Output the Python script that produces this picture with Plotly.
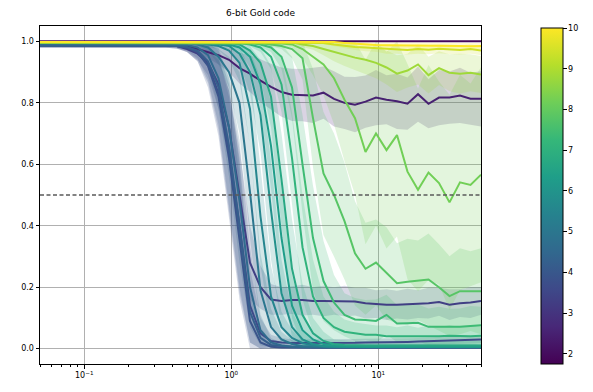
import numpy as np
import plotly.graph_objects as go
from plotly.colors import sample_colorscale

# ---------------- data ----------------
x = [0.05, 0.05894, 0.06947, 0.08189, 0.09653, 0.1138, 0.1341, 0.1581, 0.1864, 0.2197,
     0.2590, 0.3053, 0.3598, 0.4242, 0.5, 0.5894, 0.6947, 0.8189, 0.9653, 1.138,
     1.341, 1.581, 1.864, 2.197, 2.590, 3.053, 3.598, 4.242, 5.0, 5.894,
     6.947, 8.189, 9.653, 11.38, 13.41, 15.81, 18.64, 21.97, 25.90, 30.53,
     35.98, 42.42, 50.0]

series_values = [1.9, 2.5, 3.3, 3.6, 3.9, 4.2, 4.6, 5.0, 5.5, 5.9, 6.3, 6.7,
                 7.1, 7.4, 7.8, 8.2, 8.8, 9.4, 10.0]

y_a = [1.0, 1.0, 1.0, 1.0, 1.0, 1.0, 1.0, 1.0, 1.0, 1.0,
       1.0, 1.0, 1.0, 1.0, 1.0, 1.0, 1.0, 1.0, 1.0, 1.0,
       1.0, 1.0, 1.0, 1.0, 1.0, 1.0, 1.0, 1.0, 1.0, 1.0,
       1.0, 1.0, 1.0, 1.0, 1.0, 1.0, 1.0, 1.0, 1.0, 1.0,
       1.0, 1.0, 1.0]
sd_a = [0, 0, 0, 0, 0, 0, 0, 0, 0, 0,
        0, 0, 0, 0, 0, 0, 0, 0, 0, 0,
        0, 0, 0, 0, 0, 0, 0, 0, 0, 0,
        0, 0, 0, 0, 0, 0, 0, 0, 0, 0,
        0, 0, 0]

y_b = [0.99, 0.99, 0.99, 0.99, 0.99, 0.99, 0.99, 0.99, 0.99, 0.99,
       0.99, 0.99, 0.99, 0.99, 0.985, 0.975, 0.966, 0.955, 0.94, 0.913,
       0.895, 0.872, 0.852, 0.835, 0.826, 0.825, 0.824, 0.833, 0.813, 0.80,
       0.794, 0.804, 0.817, 0.81, 0.805, 0.797, 0.828, 0.797, 0.817, 0.817,
       0.824, 0.813, 0.813]
sd_b = [0.004, 0.004, 0.004, 0.004, 0.004, 0.004, 0.004, 0.004, 0.004, 0.004,
        0.004, 0.004, 0.005, 0.006, 0.01, 0.015, 0.02, 0.03, 0.04, 0.05,
        0.06, 0.07, 0.075, 0.08, 0.085, 0.085, 0.09, 0.085, 0.09, 0.085,
        0.09, 0.085, 0.09, 0.08, 0.09, 0.085, 0.09, 0.08, 0.09, 0.085,
        0.09, 0.085, 0.09]

y_p = [0.985, 0.985, 0.985, 0.985, 0.985, 0.985, 0.985, 0.985, 0.985, 0.985,
       0.985, 0.985, 0.985, 0.985, 0.975, 0.96, 0.93, 0.86, 0.72, 0.50,
       0.28, 0.20, 0.16, 0.155, 0.158, 0.158, 0.155, 0.155, 0.155, 0.155,
       0.153, 0.148, 0.145, 0.143, 0.143, 0.145, 0.145, 0.148, 0.152, 0.143,
       0.148, 0.15, 0.155]
sd_p = [0.005, 0.005, 0.005, 0.005, 0.005, 0.005, 0.005, 0.005, 0.005, 0.005,
        0.005, 0.005, 0.005, 0.006, 0.01, 0.02, 0.04, 0.08, 0.12, 0.15,
        0.12, 0.07, 0.05, 0.045, 0.045, 0.05, 0.045, 0.05, 0.045, 0.05,
        0.045, 0.05, 0.045, 0.05, 0.045, 0.05, 0.045, 0.05, 0.045, 0.05,
        0.045, 0.05, 0.045]

y_d3 = [0.985, 0.985, 0.985, 0.985, 0.985, 0.985, 0.985, 0.985, 0.985, 0.985,
        0.985, 0.985, 0.985, 0.985, 0.98, 0.965, 0.925, 0.83, 0.64, 0.40,
        0.14, 0.05, 0.025, 0.02, 0.018, 0.018, 0.017, 0.017, 0.018, 0.018,
        0.019, 0.02, 0.02, 0.021, 0.022, 0.022, 0.023, 0.024, 0.025, 0.026,
        0.027, 0.028, 0.03]
sd_d3 = [0.005, 0.005, 0.005, 0.005, 0.005, 0.005, 0.005, 0.005, 0.005, 0.005,
         0.005, 0.005, 0.006, 0.008, 0.015, 0.03, 0.06, 0.12, 0.2, 0.22,
         0.12, 0.05, 0.02, 0.015, 0.012, 0.012, 0.012, 0.012, 0.012, 0.012,
         0.012, 0.012, 0.012, 0.012, 0.012, 0.012, 0.012, 0.012, 0.012, 0.012,
         0.012, 0.012, 0.012]

y_d1 = [0.985, 0.985, 0.985, 0.985, 0.985, 0.985, 0.985, 0.985, 0.985, 0.985,
        0.985, 0.985, 0.985, 0.985, 0.98, 0.965, 0.92, 0.82, 0.62, 0.36,
        0.09, 0.02, 0.006, 0.004, 0.003, 0.003, 0.003, 0.003, 0.003, 0.003,
        0.003, 0.003, 0.003, 0.003, 0.003, 0.003, 0.003, 0.003, 0.003, 0.003,
        0.003, 0.003, 0.003]
sd_d1 = [0.005, 0.005, 0.005, 0.005, 0.005, 0.005, 0.005, 0.005, 0.005, 0.005,
         0.005, 0.005, 0.006, 0.008, 0.015, 0.03, 0.07, 0.13, 0.2, 0.2,
         0.09, 0.03, 0.01, 0.006, 0.004, 0.004, 0.004, 0.004, 0.004, 0.004,
         0.004, 0.004, 0.004, 0.004, 0.004, 0.004, 0.004, 0.004, 0.004, 0.004,
         0.004, 0.004, 0.004]

y_d2 = [0.985, 0.985, 0.985, 0.985, 0.985, 0.985, 0.985, 0.985, 0.985, 0.985,
        0.985, 0.985, 0.985, 0.985, 0.982, 0.97, 0.935, 0.85, 0.66, 0.40,
        0.12, 0.035, 0.012, 0.008, 0.006, 0.006, 0.005, 0.005, 0.005, 0.005,
        0.005, 0.005, 0.005, 0.005, 0.005, 0.005, 0.005, 0.005, 0.005, 0.005,
        0.005, 0.005, 0.005]
sd_d2 = [0.005, 0.005, 0.005, 0.005, 0.005, 0.005, 0.005, 0.005, 0.005, 0.005,
         0.005, 0.005, 0.006, 0.008, 0.012, 0.025, 0.06, 0.12, 0.2, 0.2,
         0.1, 0.035, 0.012, 0.008, 0.005, 0.005, 0.005, 0.005, 0.005, 0.005,
         0.005, 0.005, 0.005, 0.005, 0.005, 0.005, 0.005, 0.005, 0.005, 0.005,
         0.005, 0.005, 0.005]

y_d4 = [0.99, 0.99, 0.99, 0.99, 0.99, 0.99, 0.99, 0.99, 0.99, 0.99,
        0.99, 0.99, 0.99, 0.99, 0.988, 0.98, 0.955, 0.88, 0.72, 0.48,
        0.2, 0.06, 0.02, 0.01, 0.006, 0.005, 0.005, 0.005, 0.005, 0.005,
        0.005, 0.005, 0.005, 0.005, 0.005, 0.005, 0.005, 0.005, 0.005, 0.005,
        0.005, 0.005, 0.005]
sd_d4 = [0.004, 0.004, 0.004, 0.004, 0.004, 0.004, 0.004, 0.004, 0.004, 0.004,
         0.004, 0.004, 0.004, 0.005, 0.008, 0.015, 0.04, 0.1, 0.16, 0.2,
         0.13, 0.05, 0.015, 0.008, 0.005, 0.005, 0.005, 0.005, 0.005, 0.005,
         0.005, 0.005, 0.005, 0.005, 0.005, 0.005, 0.005, 0.005, 0.005, 0.005,
         0.005, 0.005, 0.005]

y_t1 = [0.995, 0.995, 0.995, 0.995, 0.995, 0.995, 0.995, 0.995, 0.995, 0.995,
        0.995, 0.995, 0.995, 0.995, 0.995, 0.99, 0.98, 0.95, 0.90, 0.80,
        0.51, 0.19, 0.07, 0.03, 0.015, 0.008, 0.006, 0.005, 0.005, 0.005,
        0.005, 0.005, 0.005, 0.005, 0.005, 0.005, 0.005, 0.005, 0.005, 0.005,
        0.005, 0.005, 0.005]
sd_t1 = [0.003, 0.003, 0.003, 0.003, 0.003, 0.003, 0.003, 0.003, 0.003, 0.003,
         0.003, 0.003, 0.003, 0.003, 0.004, 0.006, 0.01, 0.025, 0.05, 0.1,
         0.15, 0.12, 0.06, 0.025, 0.012, 0.008, 0.006, 0.006, 0.006, 0.006,
         0.006, 0.006, 0.006, 0.006, 0.006, 0.006, 0.006, 0.006, 0.006, 0.006,
         0.006, 0.006, 0.006]

y_t2 = [0.995, 0.995, 0.995, 0.995, 0.995, 0.995, 0.995, 0.995, 0.995, 0.995,
        0.995, 0.995, 0.995, 0.995, 0.995, 0.995, 0.99, 0.985, 0.97, 0.93,
        0.78, 0.43, 0.17, 0.07, 0.035, 0.018, 0.01, 0.007, 0.006, 0.005,
        0.005, 0.005, 0.005, 0.005, 0.005, 0.005, 0.005, 0.005, 0.005, 0.005,
        0.005, 0.005, 0.005]
sd_t2 = [0.003, 0.003, 0.003, 0.003, 0.003, 0.003, 0.003, 0.003, 0.003, 0.003,
         0.003, 0.003, 0.003, 0.003, 0.003, 0.004, 0.006, 0.012, 0.03, 0.06,
         0.12, 0.16, 0.1, 0.05, 0.025, 0.012, 0.008, 0.008, 0.008, 0.008,
         0.008, 0.008, 0.008, 0.008, 0.008, 0.008, 0.008, 0.008, 0.008, 0.008,
         0.008, 0.008, 0.008]

y_t3 = [0.995, 0.995, 0.995, 0.995, 0.995, 0.995, 0.995, 0.995, 0.995, 0.995,
        0.995, 0.995, 0.995, 0.995, 0.995, 0.995, 0.995, 0.99, 0.985, 0.96,
        0.90, 0.76, 0.45, 0.18, 0.07, 0.03, 0.015, 0.008, 0.006, 0.005,
        0.005, 0.005, 0.005, 0.005, 0.005, 0.005, 0.005, 0.005, 0.005, 0.005,
        0.005, 0.005, 0.005]
sd_t3 = [0.003, 0.003, 0.003, 0.003, 0.003, 0.003, 0.003, 0.003, 0.003, 0.003,
         0.003, 0.003, 0.003, 0.003, 0.003, 0.003, 0.003, 0.006, 0.01, 0.03,
         0.07, 0.12, 0.16, 0.11, 0.05, 0.025, 0.012, 0.008, 0.008, 0.008,
         0.008, 0.008, 0.008, 0.008, 0.008, 0.008, 0.008, 0.008, 0.008, 0.008,
         0.008, 0.008, 0.008]

y_t4 = [0.995, 0.995, 0.995, 0.995, 0.995, 0.995, 0.995, 0.995, 0.995, 0.995,
        0.995, 0.995, 0.995, 0.995, 0.995, 0.995, 0.995, 0.995, 0.99, 0.98,
        0.95, 0.86, 0.66, 0.36, 0.14, 0.06, 0.03, 0.015, 0.01, 0.008,
        0.006, 0.006, 0.006, 0.006, 0.006, 0.006, 0.006, 0.006, 0.006, 0.006,
        0.006, 0.006, 0.006]
sd_t4 = [0.003, 0.003, 0.003, 0.003, 0.003, 0.003, 0.003, 0.003, 0.003, 0.003,
         0.003, 0.003, 0.003, 0.003, 0.003, 0.003, 0.003, 0.003, 0.006, 0.012,
         0.035, 0.08, 0.14, 0.16, 0.1, 0.05, 0.025, 0.015, 0.01, 0.01,
         0.01, 0.01, 0.01, 0.01, 0.01, 0.01, 0.01, 0.01, 0.01, 0.01,
         0.01, 0.01, 0.01]

y_t5 = [0.995, 0.995, 0.995, 0.995, 0.995, 0.995, 0.995, 0.995, 0.995, 0.995,
        0.995, 0.995, 0.995, 0.995, 0.995, 0.995, 0.995, 0.995, 0.995, 0.99,
        0.97, 0.93, 0.82, 0.55, 0.26, 0.11, 0.05, 0.025, 0.015, 0.012,
        0.01, 0.01, 0.01, 0.01, 0.01, 0.01, 0.01, 0.01, 0.01, 0.01,
        0.01, 0.01, 0.01]
sd_t5 = [0.003, 0.003, 0.003, 0.003, 0.003, 0.003, 0.003, 0.003, 0.003, 0.003,
         0.003, 0.003, 0.003, 0.003, 0.003, 0.003, 0.003, 0.003, 0.003, 0.01,
         0.02, 0.05, 0.1, 0.15, 0.16, 0.1, 0.05, 0.03, 0.015, 0.015,
         0.015, 0.015, 0.015, 0.015, 0.015, 0.015, 0.015, 0.015, 0.015, 0.015,
         0.015, 0.015, 0.015]

y_c1 = [0.995, 0.995, 0.995, 0.995, 0.995, 0.995, 0.995, 0.995, 0.995, 0.995,
        0.995, 0.995, 0.995, 0.995, 0.995, 0.995, 0.995, 0.995, 0.995, 0.995,
        0.99, 0.98, 0.95, 0.86, 0.62, 0.33, 0.17, 0.10, 0.07, 0.055,
        0.05, 0.045, 0.045, 0.04, 0.04, 0.04, 0.038, 0.04, 0.04, 0.042,
        0.04, 0.04, 0.042]
sd_c1 = [0.003, 0.003, 0.003, 0.003, 0.003, 0.003, 0.003, 0.003, 0.003, 0.003,
         0.003, 0.003, 0.003, 0.003, 0.003, 0.003, 0.003, 0.003, 0.003, 0.003,
         0.006, 0.015, 0.04, 0.09, 0.15, 0.17, 0.12, 0.07, 0.05, 0.04,
         0.035, 0.035, 0.03, 0.035, 0.03, 0.035, 0.03, 0.035, 0.03, 0.035,
         0.03, 0.035, 0.03]

y_c2 = [0.995, 0.995, 0.995, 0.995, 0.995, 0.995, 0.995, 0.995, 0.995, 0.995,
        0.995, 0.995, 0.995, 0.995, 0.995, 0.995, 0.995, 0.995, 0.995, 0.995,
        0.995, 0.99, 0.98, 0.95, 0.85, 0.60, 0.36, 0.22, 0.15, 0.11,
        0.095, 0.093, 0.09, 0.11, 0.082, 0.083, 0.084, 0.071, 0.071, 0.07,
        0.071, 0.074, 0.076]
sd_c2 = [0.003, 0.003, 0.003, 0.003, 0.003, 0.003, 0.003, 0.003, 0.003, 0.003,
         0.003, 0.003, 0.003, 0.003, 0.003, 0.003, 0.003, 0.003, 0.003, 0.003,
         0.004, 0.008, 0.015, 0.04, 0.1, 0.16, 0.17, 0.13, 0.09, 0.07,
         0.07, 0.065, 0.07, 0.065, 0.06, 0.065, 0.06, 0.06, 0.065, 0.06,
         0.06, 0.065, 0.06]

y_c3 = [0.995, 0.995, 0.995, 0.995, 0.995, 0.995, 0.995, 0.995, 0.995, 0.995,
        0.995, 0.995, 0.995, 0.995, 0.995, 0.995, 0.995, 0.995, 0.995, 0.995,
        0.995, 0.995, 0.99, 0.985, 0.975, 0.945, 0.75, 0.57, 0.50, 0.415,
        0.31, 0.26, 0.28, 0.245, 0.213, 0.218, 0.222, 0.225, 0.20, 0.171,
        0.187, 0.187, 0.187]
sd_c3 = [0.003, 0.003, 0.003, 0.003, 0.003, 0.003, 0.003, 0.003, 0.003, 0.003,
         0.003, 0.003, 0.003, 0.003, 0.003, 0.003, 0.003, 0.003, 0.003, 0.003,
         0.003, 0.004, 0.006, 0.01, 0.03, 0.07, 0.16, 0.2, 0.2, 0.19,
         0.17, 0.15, 0.14, 0.15, 0.13, 0.14, 0.13, 0.15, 0.14, 0.13,
         0.14, 0.13, 0.14]

y_c4 = [0.995, 0.995, 0.995, 0.995, 0.995, 0.995, 0.995, 0.995, 0.995, 0.995,
        0.995, 0.995, 0.995, 0.995, 0.995, 0.995, 0.995, 0.995, 0.995, 0.995,
        0.995, 0.995, 0.995, 0.993, 0.99, 0.975, 0.95, 0.925, 0.88, 0.81,
        0.75, 0.64, 0.70, 0.646, 0.695, 0.576, 0.517, 0.573, 0.539, 0.476,
        0.541, 0.533, 0.566]
sd_c4 = [0.003, 0.003, 0.003, 0.003, 0.003, 0.003, 0.003, 0.003, 0.003, 0.003,
         0.003, 0.003, 0.003, 0.003, 0.003, 0.003, 0.003, 0.003, 0.003, 0.003,
         0.003, 0.004, 0.005, 0.007, 0.01, 0.03, 0.06, 0.1, 0.15, 0.2,
         0.25, 0.3, 0.3, 0.32, 0.33, 0.35, 0.33, 0.35, 0.33, 0.35,
         0.35, 0.33, 0.35]

y_c5 = [0.997, 0.997, 0.997, 0.997, 0.997, 0.997, 0.997, 0.997, 0.997, 0.997,
        0.997, 0.997, 0.997, 0.997, 0.997, 0.997, 0.997, 0.997, 0.997, 0.997,
        0.997, 0.997, 0.997, 0.997, 0.997, 0.99, 0.985, 0.975, 0.965, 0.955,
        0.947, 0.94, 0.93, 0.915, 0.895, 0.905, 0.925, 0.89, 0.913, 0.898,
        0.895, 0.898, 0.892]
sd_c5 = [0.002, 0.002, 0.002, 0.002, 0.002, 0.002, 0.002, 0.002, 0.002, 0.002,
         0.002, 0.002, 0.002, 0.002, 0.002, 0.002, 0.002, 0.002, 0.002, 0.002,
         0.002, 0.002, 0.002, 0.003, 0.004, 0.008, 0.012, 0.02, 0.03, 0.035,
         0.04, 0.045, 0.05, 0.055, 0.06, 0.055, 0.065, 0.06, 0.055, 0.06,
         0.065, 0.06, 0.06]

y_c6 = [0.997, 0.997, 0.997, 0.997, 0.997, 0.997, 0.997, 0.997, 0.997, 0.997,
        0.997, 0.997, 0.997, 0.997, 0.997, 0.997, 0.997, 0.997, 0.997, 0.997,
        0.997, 0.997, 0.997, 0.997, 0.997, 0.997, 0.997, 0.995, 0.99, 0.985,
        0.982, 0.98, 0.978, 0.975, 0.975, 0.972, 0.975, 0.973, 0.976, 0.974,
        0.972, 0.975, 0.97]
sd_c6 = [0.002, 0.002, 0.002, 0.002, 0.002, 0.002, 0.002, 0.002, 0.002, 0.002,
         0.002, 0.002, 0.002, 0.002, 0.002, 0.002, 0.002, 0.002, 0.002, 0.002,
         0.002, 0.002, 0.002, 0.002, 0.002, 0.002, 0.002, 0.004, 0.006, 0.008,
         0.01, 0.012, 0.012, 0.015, 0.015, 0.015, 0.015, 0.015, 0.015, 0.015,
         0.015, 0.015, 0.015]

y_c7 = [0.998, 0.998, 0.998, 0.998, 0.998, 0.998, 0.998, 0.998, 0.998, 0.998,
        0.998, 0.998, 0.998, 0.998, 0.998, 0.998, 0.998, 0.998, 0.998, 0.998,
        0.998, 0.998, 0.998, 0.998, 0.998, 0.998, 0.998, 0.998, 0.998, 0.995,
        0.992, 0.99, 0.988, 0.987, 0.987, 0.986, 0.986, 0.985, 0.986, 0.985,
        0.985, 0.984, 0.985]
sd_c7 = [0.002, 0.002, 0.002, 0.002, 0.002, 0.002, 0.002, 0.002, 0.002, 0.002,
         0.002, 0.002, 0.002, 0.002, 0.002, 0.002, 0.002, 0.002, 0.002, 0.002,
         0.002, 0.002, 0.002, 0.002, 0.002, 0.002, 0.002, 0.002, 0.002, 0.004,
         0.006, 0.008, 0.008, 0.01, 0.01, 0.01, 0.01, 0.01, 0.01, 0.01,
         0.01, 0.01, 0.01]

means = [y_a, y_b, y_p, y_d3, y_d1, y_d2, y_d4, y_t1, y_t2, y_t3, y_t4, y_t5,
         y_c1, y_c2, y_c3, y_c4, y_c5, y_c6, y_c7]
spreads = [sd_a, sd_b, sd_p, sd_d3, sd_d1, sd_d2, sd_d4, sd_t1, sd_t2, sd_t3, sd_t4, sd_t5,
           sd_c1, sd_c2, sd_c3, sd_c4, sd_c5, sd_c6, sd_c7]

x_ticks = [0.1, 1, 10]
x_ticktext = ["10<sup>\u22121</sup>", "10<sup>0</sup>", "10<sup>1</sup>"]
x_minor = [0.05, 0.06, 0.07, 0.08, 0.09, 0.2, 0.3, 0.4, 0.5, 0.6, 0.7, 0.8, 0.9,
           2, 3, 4, 5, 6, 7, 8, 9, 20, 30, 40, 50]
y_ticks = [0.0, 0.2, 0.4, 0.6, 0.8, 1.0]
cbar_ticks = [2, 3, 4, 5, 6, 7, 8, 9, 10]

CMIN, CMAX = 1.75, 10.0


def vcolor(v, alpha=None):
    t = (v - CMIN) / (CMAX - CMIN)
    t = min(max(t, 0.0), 1.0)
    c = sample_colorscale("Viridis", [t])[0]
    nums = [float(s) for s in c[c.find("(") + 1:c.find(")")].split(",")[:3]]
    r, g, b = [int(round(n)) for n in nums]
    if alpha is None:
        return f"rgb({r},{g},{b})"
    return f"rgba({r},{g},{b},{alpha})"


fig = go.Figure()
FONT = "DejaVu Sans"

# bands first
for v, m, s in zip(series_values, means, spreads):
    m = np.array(m, dtype=float)
    s = np.array(s, dtype=float)
    if s.max() <= 0:
        continue
    lo = np.clip(m - s, 0.0, 1.0)
    hi = np.clip(m + s, 0.0, 1.0)
    fig.add_trace(go.Scatter(x=x, y=lo, mode="lines", line=dict(width=0),
                             showlegend=False, hoverinfo="skip"))
    fig.add_trace(go.Scatter(x=x, y=hi, mode="lines", line=dict(width=0),
                             fill="tonexty", fillcolor=vcolor(v, 0.2),
                             showlegend=False, hoverinfo="skip"))

# then the mean lines on top
for v, m in zip(series_values, means):
    fig.add_trace(go.Scatter(x=x, y=m, mode="lines",
                             line=dict(color=vcolor(v), width=2),
                             showlegend=False))

# colorbar carrier (points lie outside the visible y range)
fig.add_trace(go.Scatter(
    x=[1, 1], y=[5, 5], mode="markers", showlegend=False, hoverinfo="skip",
    marker=dict(color=[CMIN, CMAX], colorscale="Viridis", cmin=CMIN, cmax=CMAX,
                size=1, showscale=True,
                colorbar=dict(x=(541 - 40) / 441, xanchor="left", xpad=0, ypad=0,
                              y=0.497, yanchor="middle", len=339 / 341, lenmode="fraction",
                              thickness=22, thicknessmode="pixels",
                              outlinewidth=1, outlinecolor="black",
                              ticks="outside", ticklen=3.5, tickcolor="black",
                              tickvals=cbar_ticks, ticktext=[str(t) for t in cbar_ticks],
                              tickfont=dict(family=FONT, size=8, color="black")))))

fig.add_shape(type="line", xref="paper", x0=0, x1=1, yref="y", y0=0.5, y1=0.5,
              line=dict(color="#5a5a5a", width=1.5, dash="4px,2.5px"), layer="above")

fig.update_layout(
    width=593, height=392,
    margin=dict(l=40, r=112, t=26, b=25),
    paper_bgcolor="white", plot_bgcolor="white",
    font=dict(family=FONT, size=8, color="black"),
    title=dict(text="6-bit Gold code", x=(260.5) / 593, xanchor="center",
               y=1 - 13 / 392, yanchor="middle",
               font=dict(family=FONT, size=9, color="black")),
    showlegend=False,
)
fig.update_xaxes(type="log", range=[np.log10(0.05), np.log10(50)],
                 tickvals=x_ticks, ticktext=x_ticktext,
                 showgrid=True, gridcolor="#b0b0b0", gridwidth=1,
                 ticks="outside", ticklen=3.5, tickcolor="black",
                 showline=True, linecolor="black", linewidth=1, mirror=True,
                 zeroline=False,
                 minor=dict(tickvals=x_minor, ticks="outside", ticklen=2,
                            tickcolor="black", showgrid=False),
                 tickfont=dict(family=FONT, size=8, color="black"))
fig.update_yaxes(range=[-0.05, 1.05], tickvals=y_ticks,
                 ticktext=[f"{t:.1f}" for t in y_ticks],
                 showgrid=True, gridcolor="#b0b0b0", gridwidth=1,
                 ticks="outside", ticklen=3.5, tickcolor="black",
                 showline=True, linecolor="black", linewidth=1, mirror=True,
                 zeroline=False,
                 tickfont=dict(family=FONT, size=8, color="black"))

fig.write_html("out.html")
